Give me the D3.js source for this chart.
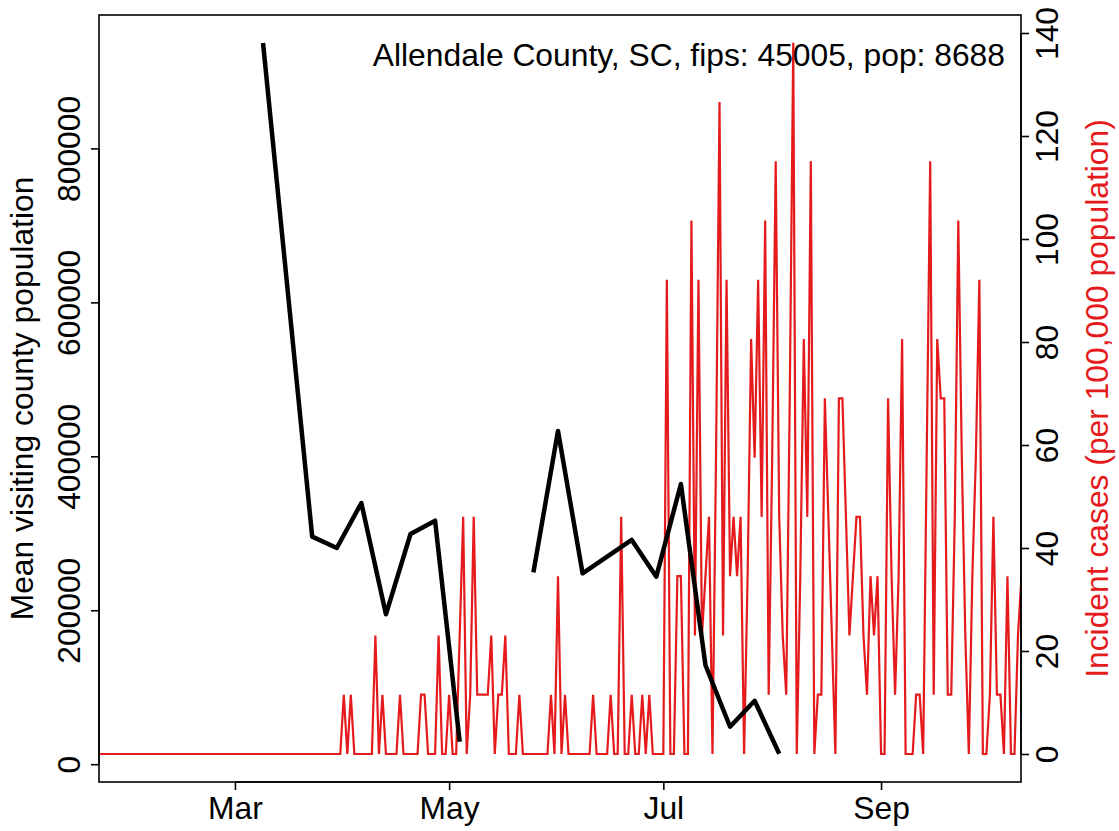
<!DOCTYPE html>
<html>
<head>
<meta charset="utf-8">
<script src="https://cdn.jsdelivr.net/npm/d3@7"></script>
<style>
  html, body { margin: 0; padding: 0; background: #fff; }
  svg { display: block; font-family: "Liberation Sans", Arial, Helvetica, sans-serif; }
</style>
</head>
<body>
<svg id="chart" width="1119" height="831"></svg>
<script>
/* Allendale County, SC — mean visiting population (weekly) vs incident cases (daily) */

const countyName = "Allendale County, SC";
const countyFips = "45005";
const countyPop  = 8688;

// weekly visiting population (null = missing week)
const visitDates = ["2020-03-09","2020-03-23","2020-03-30","2020-04-06","2020-04-13","2020-04-20",
  "2020-04-27","2020-05-04","2020-05-11","2020-05-18","2020-05-25","2020-06-01","2020-06-08",
  "2020-06-15","2020-06-22","2020-06-29","2020-07-06","2020-07-13","2020-07-20","2020-07-27","2020-08-03"];
const visitValues = [936900, 295600, 280900, 339300, 194700, 299100,
  316300, 29200, null, null, 249300, 432900, 248000,
  269600, 291300, 243600, 364000, 128500, 48700, 82400, 13600];

// daily new cases, one value per day from casesStart
const casesStart = "2020-01-22";
const dailyCases = [
  0,0,0,0,0,0,0,0,0,0, 0,0,0,0,0,0,0,0,0,0,   // Jan 22 – Feb 10
  0,0,0,0,0,0,0,0,0,0, 0,0,0,0,0,0,0,0,0,0,   // Feb 11 – Mar 1
  0,0,0,0,0,0,0,0,0,0, 0,0,0,0,0,0,0,0,0,0,   // Mar 2 – Mar 21
  0,0,0,0,0,0,0,0,0,0,                         // Mar 22 – Mar 31
  1,0,1,0,0,0,0,0,0,2, 0,1,0,0,0,0,1,0,0,0,   // Apr 1 – Apr 20
  0,0,1,1,0,0,0,2,0,0, 1,0,0,2,4,0,1,4,1,1,   // Apr 21 – May 10
  1,1,2,0,1,1,2,0,0,0, 1,0,0,0,0,0,0,0,0,1,   // May 11 – May 30
  0,3,0,1,0,0,0,0,0,0, 0,1,0,0,0,0,1,0,0,4,   // May 31 – Jun 19
  0,0,1,0,0,1,0,1,0,0, 0,0,8,0,0,3,3,0,0,9,   // Jun 20 – Jul 9
  2,8,2,3,4,0,5,11,2,8, 3,4,3,4,0,3,7,5,8,4,  // Jul 10 – Jul 29
  9,1,5,10,4,2,1,6,12,0, 3,7,4,10,0,1,1,6,4,2, // Jul 30 – Aug 18
  0,6,6,4,2,3,4,4,2,1, 3,2,3,0,0,6,3,1,3,7,   // Aug 19 – Sep 7
  0,0,0,1,1,0,5,10,1,7, 6,6,1,1,4,9,5,2,0,3,  // Sep 8 – Sep 27
  5,8,0,0,1,4,1,1,0,3, 0,0,2,3                // Sep 28 – Oct 11
];

const xTickDates = ["2020-03-01","2020-05-01","2020-07-01","2020-09-01"];
const leftTicks  = [0, 200000, 400000, 600000, 800000];
const rightTicks = [0, 20, 40, 60, 80, 100, 120, 140];

const RED = "#e41a1c";
const FS = 31.8;

const parse = d3.utcParse("%Y-%m-%d");
const box = { l: 99, r: 1021, t: 15, b: 782 };

const startDay = parse(casesStart);
const casesSeries = dailyCases.map((c, i) => ({
  date: d3.utcDay.offset(startDay, i),
  v: c / countyPop * 100000
}));
const visitSeries = visitDates.map((d, i) => ({ date: parse(d), v: visitValues[i] }));

const x = d3.scaleUtc()
  .domain([parse("2020-01-22"), parse("2020-10-11")])
  .range([98, 1021.5]);
const yL = d3.scaleLinear().domain([0, 800000]).range([764.2, 148.4]);
const yR = d3.scaleLinear().domain([0, 140]).range([754, 33]);

const svg = d3.select("#chart");

svg.append("defs").append("clipPath").attr("id", "plotClip")
  .append("rect")
  .attr("x", box.l).attr("y", box.t)
  .attr("width", box.r - box.l).attr("height", box.b - box.t);

const plot = svg.append("g").attr("clip-path", "url(#plotClip)");

// red daily cases
plot.append("path")
  .datum(casesSeries)
  .attr("fill", "none")
  .attr("stroke", RED)
  .attr("stroke-width", 2.2)
  .attr("stroke-linejoin", "miter")
  .attr("d", d3.line().x(d => x(d.date)).y(d => yR(d.v)));

// black weekly visitors
plot.append("path")
  .datum(visitSeries)
  .attr("fill", "none")
  .attr("stroke", "#000")
  .attr("stroke-width", 4.5)
  .attr("stroke-linejoin", "round")
  .attr("d", d3.line().defined(d => d.v != null).x(d => x(d.date)).y(d => yL(d.v)));

// frame
svg.append("rect")
  .attr("x", box.l).attr("y", box.t)
  .attr("width", box.r - box.l).attr("height", box.b - box.t)
  .attr("fill", "none").attr("stroke", "#000").attr("stroke-width", 1.6);

/* ---------- axes ---------- */
const xTicks = xTickDates.map(parse);
const gx = svg.append("g").attr("transform", `translate(0,${box.b})`)
  .call(d3.axisBottom(x).tickValues(xTicks).tickFormat(d3.utcFormat("%b")).tickSizeOuter(0).tickSize(8).tickPadding(6));
gx.select(".domain").remove();
gx.append("line").attr("x1", x(xTicks[0])).attr("x2", x(xTicks[xTicks.length - 1]))
  .attr("stroke", "#000").attr("stroke-width", 1.6);
gx.selectAll("line").attr("stroke-width", 1.6);
gx.selectAll("text").attr("font-size", FS).attr("fill", "#000")
  .attr("font-family", "Liberation Sans, Arial, sans-serif")
  .attr("dy", 0).attr("y", 37);

const gl = svg.append("g").attr("transform", `translate(${box.l},0)`)
  .call(d3.axisLeft(yL).tickValues(leftTicks).tickFormat(d3.format("d")).tickSize(8));
gl.select(".domain").remove();
gl.append("line").attr("y1", yL(leftTicks[0])).attr("y2", yL(leftTicks[leftTicks.length - 1]))
  .attr("stroke", "#000").attr("stroke-width", 1.6);
gl.selectAll("line").attr("stroke-width", 1.6);
gl.selectAll("text")
  .attr("font-size", FS).attr("fill", "#000")
  .attr("font-family", "Liberation Sans, Arial, sans-serif")
  .attr("text-anchor", "middle").attr("transform", "rotate(-90)")
  .attr("x", 0).attr("dy", 0).attr("y", -19);

const gr = svg.append("g").attr("transform", `translate(${box.r},0)`)
  .call(d3.axisRight(yR).tickValues(rightTicks).tickFormat(d3.format("d")).tickSize(8));
gr.select(".domain").remove();
gr.append("line").attr("y1", yR(rightTicks[0])).attr("y2", yR(rightTicks[rightTicks.length - 1]))
  .attr("stroke", "#000").attr("stroke-width", 1.6);
gr.selectAll("line").attr("stroke-width", 1.6);
gr.selectAll("text")
  .attr("font-size", FS).attr("fill", "#000")
  .attr("font-family", "Liberation Sans, Arial, sans-serif")
  .attr("text-anchor", "middle").attr("transform", "rotate(-90)")
  .attr("x", 0).attr("dy", 0).attr("y", 37);

/* ---------- titles ---------- */
svg.append("text")
  .attr("transform", `translate(33,${(box.t + box.b) / 2}) rotate(-90)`)
  .attr("text-anchor", "middle").attr("font-size", FS).attr("fill", "#000")
  .text("Mean visiting county population");

svg.append("text")
  .attr("transform", `translate(1108,${(box.t + box.b) / 2}) rotate(-90)`)
  .attr("text-anchor", "middle").attr("font-size", FS).attr("fill", RED)
  .text("Incident cases (per 100,000 population)");

svg.append("text")
  .attr("x", 1005).attr("y", 66)
  .attr("text-anchor", "end").attr("font-size", FS).attr("fill", "#000")
  .text(`${countyName}, fips: ${countyFips}, pop: ${countyPop}`);
</script>
</body>
</html>
